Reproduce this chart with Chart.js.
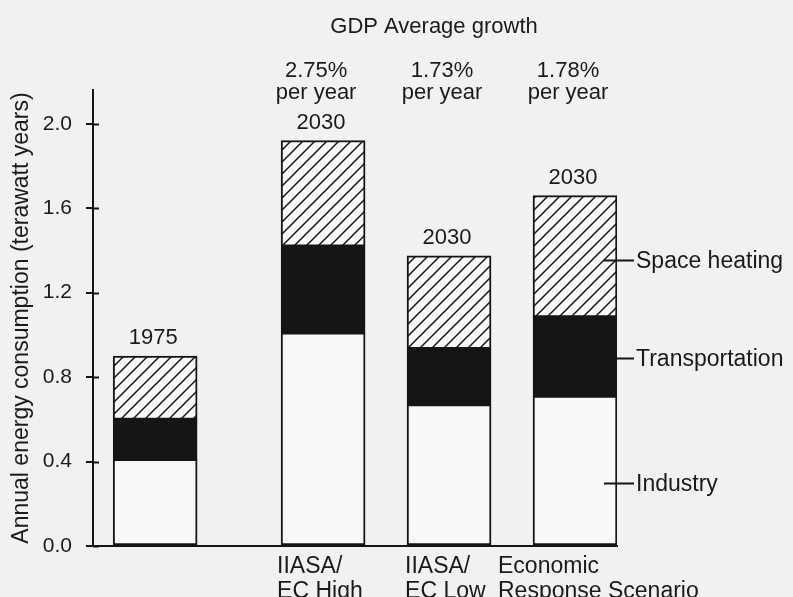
<!DOCTYPE html>
<html>
<head>
<meta charset="utf-8">
<script src="https://cdn.jsdelivr.net/npm/chart.js@4.4.1/dist/chart.umd.min.js"></script>
<style>
  html, body { margin: 0; padding: 0; background: #f1f1f1; }
  #wrap { width: 793px; height: 597px; }
</style>
</head>
<body>
<div id="wrap"><canvas id="myChart" width="793" height="597"></canvas></div>
<script>
'use strict';

// data (terawatt years)
let scenarios = [[], ['IIASA/', 'EC High'], ['IIASA/', 'EC Low'], ['Economic', 'Response Scenario']];
let years = ['1975', '2030', '2030', '2030'];
let growth = ['', '2.75%', '1.73%', '1.78%'];
let industry = [0.41, 1.01, 0.67, 0.71];
let transportation = [0.19, 0.41, 0.265, 0.375];
let spaceHeating = [0.30, 0.50, 0.44, 0.575];
let sectorNames = ['Industry', 'Transportation', 'Space heating'];
let yTicks = [0, 0.4, 0.8, 1.2, 1.6, 2.0];

// layout: 1975 stands apart from the three 2030 scenarios
let slots = [0, 4, 7, 10];
let leaderFrac = [0.42, 0.48, 0.47];
let labelShift = [0, -4, -2, -35];

const FONT = 'Liberation Sans, Arial, Helvetica, sans-serif';
const INK = '#151515';
const TEXT = '#1a1a1a';

function hatch(ctx) {
  let c = document.createElement('canvas');
  c.width = 12;
  c.height = 12;
  let g = c.getContext('2d');
  g.fillStyle = '#f8f8f8';
  g.fillRect(0, 0, 12, 12);
  g.strokeStyle = INK;
  g.lineWidth = 1.5;
  g.beginPath();
  g.moveTo(-3, 15); g.lineTo(15, -3);
  g.moveTo(-3, 3); g.lineTo(3, -3);
  g.moveTo(9, 15); g.lineTo(15, 9);
  g.stroke();
  return ctx.createPattern(c, 'repeat');
}

function points(arr) {
  return arr.map((v, i) => ({ x: slots[i], y: v }));
}

const annotations = {
  id: 'annotations',
  afterDraw(chart) {
    const ctx = chart.ctx;
    const ys = chart.scales.y;
    const metas = [0, 1, 2].map(i => chart.getDatasetMeta(i));
    ctx.save();
    ctx.strokeStyle = INK;
    ctx.fillStyle = TEXT;
    ctx.lineWidth = 2;

    // inner half of the y ticks
    yTicks.forEach(v => {
      let py = Math.round(ys.getPixelForValue(v)) + 0.5;
      ctx.beginPath();
      ctx.moveTo(ys.right, py);
      ctx.lineTo(ys.right + 6, py);
      ctx.stroke();
    });

    // heading
    ctx.font = '22px ' + FONT;
    ctx.textAlign = 'center';
    ctx.textBaseline = 'alphabetic';
    ctx.fillText('GDP Average growth', 434, 33);

    metas[2].data.forEach((bar, i) => {
      let cx = bar.x;
      ctx.font = '22px ' + FONT;
      ctx.textAlign = 'center';
      ctx.fillText(years[i], cx - 2, bar.y - 12);
      if (growth[i]) {
        ctx.fillText(growth[i], cx - 7, 77);
        ctx.fillText('per year', cx - 7, 99);
      }
      ctx.font = '23px ' + FONT;
      ctx.textAlign = 'left';
      scenarios[i].forEach((t, k) => {
        ctx.fillText(t, bar.x - bar.width / 2 + labelShift[i], 573 + k * 25);
      });
    });

    // sector labels beside the last bar
    let last = slots.length - 1;
    let right = metas[0].data[last].x + metas[0].data[last].width / 2;
    let base = 0;
    ctx.font = '23px ' + FONT;
    ctx.textAlign = 'left';
    ctx.textBaseline = 'middle';
    [industry, transportation, spaceHeating].forEach((arr, s) => {
      let v = base + arr[last] * leaderFrac[s];
      base += arr[last];
      let py = Math.round(ys.getPixelForValue(v)) + 0.5;
      ctx.beginPath();
      ctx.moveTo(right - 13, py);
      ctx.lineTo(right + 17, py);
      ctx.stroke();
      ctx.fillText(sectorNames[s], right + 19, py + 1);
    });
    ctx.restore();
  }
};

let ctx = document.getElementById('myChart').getContext('2d');
let pattern = hatch(ctx);

let myChart = new Chart(ctx, {
  type: 'bar',
  data: {
    datasets: [
      { label: sectorNames[0], data: points(industry), backgroundColor: '#f8f8f8' },
      { label: sectorNames[1], data: points(transportation), backgroundColor: INK },
      { label: sectorNames[2], data: points(spaceHeating), backgroundColor: pattern }
    ]
  },
  options: {
    responsive: false,
    animation: false,
    layout: { padding: { left: 0, right: 176, top: 90, bottom: 51 } },
    datasets: {
      bar: { barThickness: 84, borderWidth: 2, borderColor: INK, borderSkipped: false }
    },
    plugins: {
      legend: { display: false },
      tooltip: { enabled: false }
    },
    scales: {
      x: {
        type: 'linear',
        offset: false,
        min: -1.48,
        max: 11.0,
        stacked: true,
        ticks: { display: false },
        grid: { display: false, drawTicks: false },
        border: { display: true, color: INK, width: 2 },
        afterFit: s => { s.height = 0; }
      },
      y: {
        min: 0,
        max: 2.16,
        stacked: true,
        afterFit: s => { s.width = 93; },
        afterBuildTicks: s => { s.ticks = yTicks.map(v => ({ value: v })); },
        ticks: {
          callback: v => v.toFixed(1),
          font: { family: FONT, size: 21 },
          color: TEXT,
          padding: 14
        },
        grid: { drawOnChartArea: false, drawTicks: true, tickLength: 7, color: INK, lineWidth: 2 },
        border: { display: true, color: INK, width: 2 },
        title: {
          display: true,
          text: 'Annual energy consumption (terawatt years)',
          font: { family: FONT, size: 23 },
          color: TEXT,
          padding: { top: 8, bottom: 0 }
        }
      }
    }
  },
  plugins: [annotations]
});
</script>
</body>
</html>
